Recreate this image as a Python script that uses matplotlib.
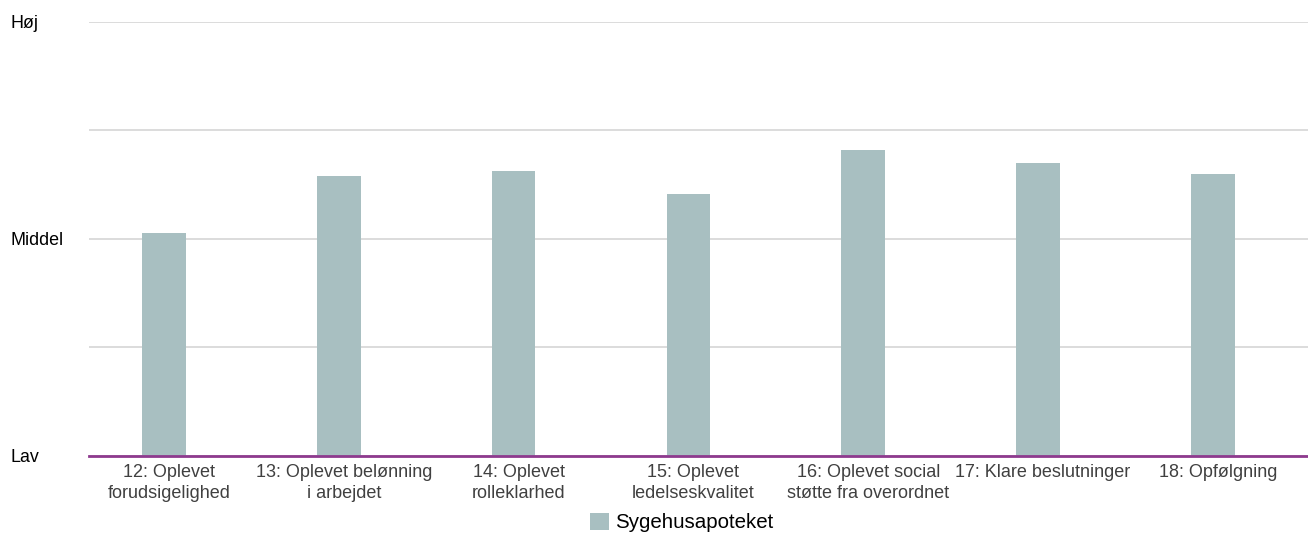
import matplotlib
matplotlib.use("Agg")
import matplotlib.pyplot as plt
from matplotlib.patches import Patch
from matplotlib.transforms import ScaledTranslation

categories = [
    "12: Oplevet\nforudsigelighed",
    "13: Oplevet belønning\ni arbejdet",
    "14: Oplevet\nrolleklarhed",
    "15: Oplevet\nledelseskvalitet",
    "16: Oplevet social\nstøtte fra overordnet",
    "17: Klare beslutninger",
    "18: Opfølgning",
]
values = [51.3, 64.4, 65.6, 60.3, 70.4, 67.4, 64.9]
series_name = "Sygehusapoteket"
ytick_values = [0, 25, 50, 75, 100]
ytick_labels = ["Lav", "", "Middel", "", "Høj"]

plt.rcParams['font.family'] = ['Liberation Sans', 'DejaVu Sans']

W, H = 1308, 534
fig = plt.figure(figsize=(W / 100, H / 100), dpi=100)
ax = fig.add_axes([89 / W, (H - 455.5) / H, (1308 - 89) / W, (455.5 - 21.5) / H])

x = list(range(len(categories)))
ax.bar(x, values, width=0.25, color="#A8BFC1", zorder=2)

step_px = 174.8
left = -(164 - 89) / step_px
ax.set_xlim(left, left + 1219 / step_px)
ax.set_ylim(0, 100)
ax.set_yticks(ytick_values)
ax.set_yticklabels(ytick_labels, fontsize=12.9, color="black")
ax.set_xticks(x)
ax.set_xticklabels(categories, fontsize=13, color="#404040", linespacing=1.3)
ax.tick_params(axis="y", length=0, pad=56.5)
ax.tick_params(axis="x", length=0, pad=6)
for lab in ax.get_yticklabels():
    lab.set_horizontalalignment("left")
shift = ScaledTranslation(5 / 100, 0, fig.dpi_scale_trans)
for lab in ax.get_xticklabels():
    lab.set_transform(lab.get_transform() + shift)

ax.grid(axis="y", color="#D9D9D9", linewidth=1.3, zorder=0)
for s in ["top", "right", "left"]:
    ax.spines[s].set_visible(False)
ax.spines["bottom"].set_color("#8E3A8E")
ax.spines["bottom"].set_linewidth(2)
ax.spines["bottom"].set_zorder(3)

handle = Patch(facecolor="#A8BFC1", edgecolor="none")
fig.legend([handle], [series_name], loc="center", bbox_to_anchor=(681.5 / W, (H - 522.5) / H),
           frameon=False, fontsize=14.8, handlelength=0.92, handleheight=0.92,
           handletextpad=0.3, borderpad=0, borderaxespad=0)

fig.savefig("out.png", dpi=100)
